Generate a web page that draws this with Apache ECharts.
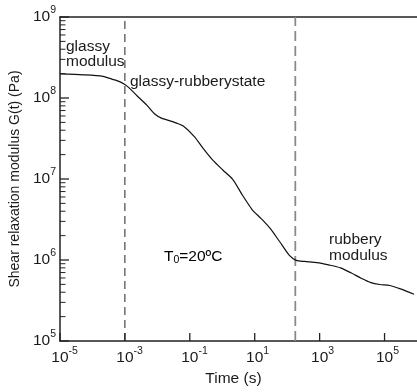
<!DOCTYPE html>
<html>
<head>
<meta charset="utf-8">
<style>
  html, body { margin: 0; padding: 0; background: #fff; }
  #chart { width: 417px; height: 392px; }
</style>
<script src="https://cdn.jsdelivr.net/npm/echarts@6/dist/echarts.min.js"></script>
</head>
<body>
<div id="chart"></div>
<script>
// Relaxation master curve G(t) at reference temperature T0 = 20 °C
const timeS = [1.0e-5, 5.2e-5, 2.1e-4, 4.2e-4, 7.4e-4, 1.17e-3, 2.4e-3, 4.8e-3, 8.5e-3, 1.38e-2,
  2.2e-2, 3.9e-2, 6.3e-2, 0.138, 0.257, 0.51, 1.02, 2.1, 4.2, 8.3,
  15.5, 29.5, 59, 117, 190, 340, 830, 1.9e3, 4.4e3, 9.5e3,
  1.9e4, 3.8e4, 7.1e4, 1.45e5, 3.1e5, 8.1e5];
const modulusPa = [1.98e8, 1.93e8, 1.85e8, 1.70e8, 1.57e8, 1.40e8, 1.06e8, 8.1e7, 6.3e7, 5.6e7,
  5.3e7, 4.9e7, 4.5e7, 3.33e7, 2.39e7, 1.71e7, 1.30e7, 9.9e6, 6.3e6, 4.2e6,
  3.27e6, 2.47e6, 1.68e6, 1.14e6, 9.9e5, 9.6e5, 9.3e5, 8.7e5, 8.0e5, 6.9e5,
  5.96e5, 5.26e5, 4.98e5, 4.84e5, 4.40e5, 3.78e5];

// Region boundaries (s)
const glassyBoundary = 1e-3;
const rubberyBoundary = 178;

// Axis ranges and ticks
const xRange = [1e-5, 1e6];
const yRange = [1e5, 1e9];
const xTickValues = [1e-5, 1e-3, 1e-1, 1e1, 1e3, 1e5];
const yTickValues = [1e5, 1e6, 1e7, 1e8, 1e9];
const yMinorTicks = [];
for (let e = 5; e < 9; e++) {
  for (let k = 2; k <= 9; k++) yMinorTicks.push(k * Math.pow(10, e));
}

const FONT = 'Liberation Sans, Arial, sans-serif';
const AXIS_COLOR = '#222';
const TEXT_COLOR = '#1a1a1a';
const lg = Math.log10;
const expOf = v => Math.round(lg(v));

const richTick = {
  b: { fontSize: 15.5, lineHeight: 24, color: TEXT_COLOR, fontFamily: FONT },
  s: { fontSize: 10.5, lineHeight: 10.5, verticalAlign: 'top', color: TEXT_COLOR, fontFamily: FONT },
  h: { fontSize: 10.5, lineHeight: 10.5, verticalAlign: 'top', color: 'rgba(0,0,0,0)', fontFamily: FONT }
};

const chart = echarts.init(document.getElementById('chart'), null, { renderer: 'canvas' });

const boundaryLine = (x, style) => ({
  type: 'line',
  xAxisIndex: 0,
  yAxisIndex: 0,
  data: [[x, yRange[0]], [x, yRange[1]]],
  showSymbol: false,
  silent: true,
  lineStyle: style,
  z: 1
});

const edgeLine = (show) => ({ show: show, onZero: false, lineStyle: { color: AXIS_COLOR, width: 1.5 } });

const annotations = [
  { id: 'glassy', type: 'text', left: 66, top: 39, style: { text: 'glassy\nmodulus', font: '15.5px ' + FONT, fill: TEXT_COLOR, lineHeight: 15 } },
  { id: 'transition', type: 'text', left: 130, top: 74, style: { text: 'glassy-rubberystate', font: '15.5px ' + FONT, fill: TEXT_COLOR } },
  { id: 'rubbery', type: 'text', left: 329, top: 232, style: { text: 'rubbery\nmodulus', font: '15.5px ' + FONT, fill: TEXT_COLOR, lineHeight: 16 } },
  {
    id: 'tref', type: 'text', left: 164, top: 249,
    style: {
      text: '{t|T}{sub|0}{t|=20ºC}',
      rich: {
        t: { fontSize: 15.5, lineHeight: 18, fontFamily: FONT, color: TEXT_COLOR },
        sub: { fontSize: 10.5, lineHeight: 10, verticalAlign: 'bottom', fontFamily: FONT, color: TEXT_COLOR }
      }
    }
  }
];

const option = {
  animation: false,
  backgroundColor: '#fff',
  grid: { left: 56, right: -3, top: 17, bottom: 42, containLabel: false },
  xAxis: [{
    // data axis (log time)
    type: 'log',
    logBase: 10,
    min: xRange[0],
    max: xRange[1],
    position: 'bottom',
    name: 'Time (s)',
    nameLocation: 'middle',
    nameGap: 30,
    nameTextStyle: { fontSize: 15.5, color: TEXT_COLOR, fontFamily: FONT, padding: [0, 10, 0, 0] },
    axisLine: edgeLine(true),
    axisTick: { show: false },
    axisLabel: { show: false },
    splitLine: { show: false },
    minorTick: { show: false }
  }, {
    // frame line along the top
    type: 'log',
    logBase: 10,
    min: xRange[0],
    max: xRange[1],
    position: 'top',
    axisLine: edgeLine(true),
    axisTick: { show: false },
    axisLabel: { show: false },
    splitLine: { show: false }
  }, {
    // decade labels every two decades, in exponent units
    type: 'value',
    min: lg(xRange[0]),
    max: lg(xRange[1]),
    position: 'bottom',
    axisLine: edgeLine(false),
    axisTick: { show: false },
    axisLabel: {
      show: true,
      margin: 5,
      customValues: xTickValues.map(expOf),
      formatter: e => '{h|' + e + '}{b|10}{s|' + e + '}',
      rich: richTick
    },
    splitLine: { show: false }
  }],
  yAxis: [{
    type: 'log',
    logBase: 10,
    min: yRange[0],
    max: yRange[1],
    position: 'left',
    name: 'Shear relaxation modulus G(t) (Pa)',
    nameLocation: 'middle',
    nameGap: 35,
    nameTextStyle: { fontSize: 14, color: TEXT_COLOR, fontFamily: FONT },
    axisLine: edgeLine(true),
    axisTick: { show: false },
    axisLabel: {
      show: true,
      margin: 4,
      formatter: v => '{b|10}{s|' + expOf(v) + '}',
      rich: richTick
    },
    splitLine: { show: false }
  }],
  graphic: annotations,
  series: [
    boundaryLine(glassyBoundary, { color: '#222', width: 1, type: [8, 5] }),
    boundaryLine(rubberyBoundary, { color: '#8a8a8a', width: 1.8, type: [10, 5] }),
    {
      type: 'line',
      xAxisIndex: 0,
      yAxisIndex: 0,
      data: timeS.map((t, i) => [t, modulusPa[i]]),
      showSymbol: false,
      smooth: 0.25,
      lineStyle: { color: '#111', width: 1.2 },
      z: 3
    }
  ]
};

chart.setOption(option);

// Inward tick marks on the frame, positioned through the log axes
const finder = { xAxisIndex: 0, yAxisIndex: 0 };
const tickLine = (id, x1, y1, x2, y2, w) => ({
  id: id, type: 'line', silent: true, z: 100,
  shape: { x1: x1, y1: y1, x2: x2, y2: y2 },
  style: { stroke: AXIS_COLOR, lineWidth: w }
});
const ticks = [];
yTickValues.forEach((v, i) => {
  const p = chart.convertToPixel(finder, [xRange[0], v]);
  ticks.push(tickLine('ymaj' + i, p[0], p[1], p[0] + 9, p[1], 1.3));
});
yMinorTicks.forEach((v, i) => {
  const p = chart.convertToPixel(finder, [xRange[0], v]);
  ticks.push(tickLine('ymin' + i, p[0], p[1], p[0] + 5.5, p[1], 1));
});
xTickValues.forEach((v, i) => {
  const p = chart.convertToPixel(finder, [v, yRange[0]]);
  ticks.push(tickLine('xmaj' + i, p[0], p[1], p[0], p[1] - 8, 1.3));
});
chart.setOption({ graphic: annotations.concat(ticks) });
</script>
</body>
</html>
